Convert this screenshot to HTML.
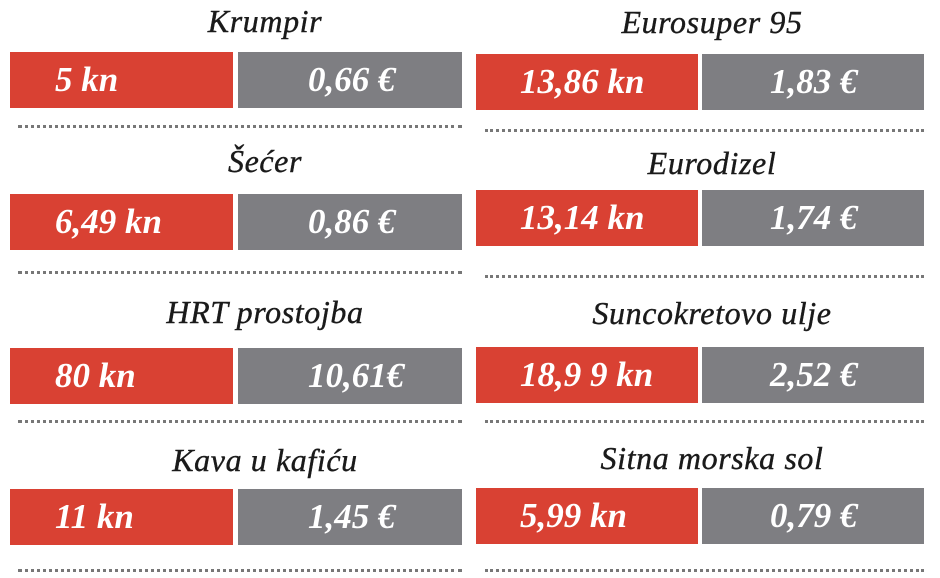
<!DOCTYPE html>
<html><head><meta charset="utf-8"><style>
body{margin:0;width:940px;height:578px;background:#fff;position:relative;overflow:hidden;font-family:"Liberation Serif",serif}
.t{position:absolute;font-style:italic;font-size:32px;color:#1a1a1a;text-align:center;width:450px;line-height:32px;letter-spacing:0.6px;-webkit-text-stroke:0.4px #1a1a1a}
.b{position:absolute;height:56px;color:#fff;font-weight:bold;font-style:italic;font-size:35px;line-height:56px;box-sizing:border-box;letter-spacing:0px}
.r{background:#d94133}.g{background:#7e7e82}
.d{position:absolute;height:0;border-top:3px dotted #777}
</style></head><body>
<div class="t" style="left:40px;top:5px">Krumpir</div>
<div class="b r" style="left:10px;top:52px;width:223px;padding-left:45px">5 kn</div>
<div class="b g" style="left:238px;top:52px;width:224px;padding-left:70px">0,66 €</div>
<div class="d" style="left:18px;top:125px;width:444px"></div>

<div class="t" style="left:40px;top:145px">Šećer</div>
<div class="b r" style="left:10px;top:194px;width:223px;padding-left:45px">6,49 kn</div>
<div class="b g" style="left:238px;top:194px;width:224px;padding-left:70px">0,86 €</div>
<div class="d" style="left:18px;top:271px;width:444px"></div>

<div class="t" style="left:40px;top:296px">HRT prostojba</div>
<div class="b r" style="left:10px;top:348px;width:223px;padding-left:45px">80 kn</div>
<div class="b g" style="left:238px;top:348px;width:224px;padding-left:70px">10,61€</div>
<div class="d" style="left:18px;top:420px;width:444px"></div>

<div class="t" style="left:40px;top:444px">Kava u kafiću</div>
<div class="b r" style="left:10px;top:489px;width:223px;padding-left:45px">11 kn</div>
<div class="b g" style="left:238px;top:489px;width:224px;padding-left:70px">1,45 €</div>
<div class="d" style="left:18px;top:569px;width:444px"></div>

<div class="t" style="left:487px;top:6px">Eurosuper 95</div>
<div class="b r" style="left:476px;top:54px;width:222px;padding-left:44px">13,86 kn</div>
<div class="b g" style="left:702px;top:54px;width:222px;padding-left:68px">1,83 €</div>
<div class="d" style="left:485px;top:129px;width:439px"></div>

<div class="t" style="left:487px;top:147px">Eurodizel</div>
<div class="b r" style="left:476px;top:190px;width:222px;padding-left:44px">13,14 kn</div>
<div class="b g" style="left:702px;top:190px;width:222px;padding-left:68px">1,74 €</div>
<div class="d" style="left:485px;top:275px;width:439px"></div>

<div class="t" style="left:487px;top:297px">Suncokretovo ulje</div>
<div class="b r" style="left:476px;top:347px;width:222px;padding-left:44px">18,9 9 kn</div>
<div class="b g" style="left:702px;top:347px;width:222px;padding-left:68px">2,52 €</div>
<div class="d" style="left:485px;top:420px;width:439px"></div>

<div class="t" style="left:487px;top:442px">Sitna morska sol</div>
<div class="b r" style="left:476px;top:488px;width:222px;padding-left:44px">5,99 kn</div>
<div class="b g" style="left:702px;top:488px;width:222px;padding-left:68px">0,79 €</div>
<div class="d" style="left:485px;top:569px;width:439px"></div>
</body></html>
